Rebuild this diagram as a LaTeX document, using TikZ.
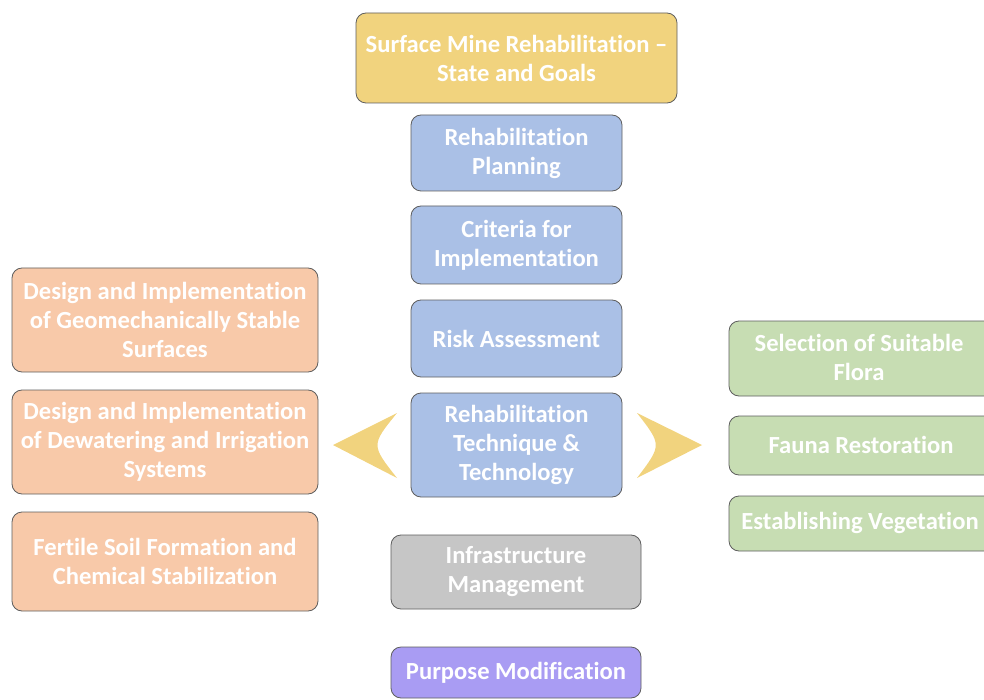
\documentclass[tikz,border=0pt]{standalone}
\usepackage{fontspec}
\setmainfont{Carlito}[Ligatures=NoCommon]
\definecolor{goldbox}{HTML}{F1D37E}
\definecolor{bluebox}{HTML}{AAC0E6}
\definecolor{peachbox}{HTML}{F8C9A9}
\definecolor{greenbox}{HTML}{C7DDB3}
\definecolor{greybox}{HTML}{C6C6C6}
\definecolor{violetbox}{HTML}{A99CF3}
\definecolor{edgegrey}{HTML}{5E5E5E}

\begin{document}
\begin{tikzpicture}[x=1pt,y=-1pt,
  stagebox/.style={draw=edgegrey,line width=.8pt,rounded corners=10pt,text=white,
    font=\bfseries\fontsize{24.6}{29}\selectfont,align=center,inner sep=0pt},
  stagetext/.style={text=white,font=\bfseries\fontsize{24.6}{29}\selectfont,align=center,inner sep=0pt},
  chevron/.style={fill=goldbox,draw=none}]
\useasboundingbox (0,0) rectangle (984,700);
\clip (0,0) rectangle (984,700);
% central column
\node[stagebox,fill=goldbox,minimum width=321pt,minimum height=90pt] (goals) at (516.5,58) {Surface Mine Rehabilitation --\\State and Goals};
\node[stagebox,fill=bluebox,minimum width=211pt,minimum height=76pt] (plan) at (516.5,153) {Rehabilitation\\Planning};
\node[stagebox,fill=bluebox,minimum width=211pt,minimum height=78pt] (crit) at (516.5,245) {Criteria for\\Implementation};
\node[stagebox,fill=bluebox,minimum width=211pt,minimum height=77pt] (risk) at (516.5,338.5) {Risk Assessment};
\node[stagebox,fill=bluebox,minimum width=211pt,minimum height=104pt] (tech) at (516.5,445) {Rehabilitation\\Technique \&\\Technology};
\node[stagebox,fill=greybox,minimum width=250pt,minimum height=74pt] (infra) at (516,572) {Infrastructure\\Management};
\node[stagebox,fill=violetbox,minimum width=250pt,minimum height=51pt] (purpose) at (516,672.5) {Purpose Modification};
% left column
\node[stagebox,fill=peachbox,minimum width=306pt,minimum height=104pt] (geomech) at (165,320) {Design and Implementation\\of Geomechanically Stable\\Surfaces};
\node[stagebox,fill=peachbox,minimum width=306pt,minimum height=104pt] (dewater) at (165,442) {Design and Implementation\\of Dewatering and Irrigation\\Systems};
\node[stagebox,fill=peachbox,minimum width=306pt,minimum height=99pt] (soil) at (165,561.5) {Fertile Soil Formation and\\Chemical Stabilization};
% right column, cut by the page edge
\node[stagebox,fill=greenbox,minimum width=270pt,minimum height=75pt] (flora) at (864,358.5) {};
\node[stagetext] (floratext) at (859,357) {Selection of Suitable\\Flora};
\node[stagebox,fill=greenbox,minimum width=270pt,minimum height=59pt] (fauna) at (864,445.5) {};
\node[stagetext] (faunatext) at (861,445) {Fauna Restoration};
\node[stagebox,fill=greenbox,minimum width=270pt,minimum height=55pt] (veget) at (864,523.5) {};
\node[stagetext] (vegettext) at (860,523) {Establishing Vegetation};
% chevrons
\fill[chevron] (333,445) -- (397,413) .. controls (371,445) .. (397,478) -- cycle;
\fill[chevron] (702,445) -- (637,413) .. controls (662,445) .. (637,478) -- cycle;
\end{tikzpicture}
\end{document}
